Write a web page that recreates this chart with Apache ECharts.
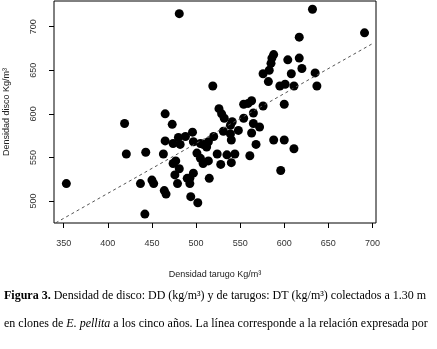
<!DOCTYPE html>
<html>
<head>
<meta charset="utf-8">
<script src="https://cdn.jsdelivr.net/npm/echarts@6/dist/echarts.min.js"></script>
<style>
  html, body { margin: 0; padding: 0; background: #fff; }
  #chart { width: 437px; height: 349px; }
</style>
</head>
<body>
<div id="chart"></div>
<script>
// tarugo density (x) vs disco density (y)
const tarugo = [
  481, 632, 691, 617, 588, 586, 585, 604, 617, 620, 583, 576, 608, 635, 582,
  595, 601, 611, 637, 519, 600, 576, 563, 554, 559, 526, 529, 532, 465, 473,
  419, 554, 565, 565, 541, 539, 572, 496, 531, 539, 548, 563, 520, 540, 568,
  588, 600, 611, 480, 488, 497, 505, 508, 514, 465, 474, 482, 501, 505, 508,
  514, 512, 524, 535, 544, 561, 528, 540, 596, 515, 421, 443, 463, 477, 474,
  481, 476, 497, 493, 490, 479, 493, 450, 452, 437, 353, 464, 466, 442, 494,
  502
];
const disco = [
  715, 720, 693, 688, 668, 664, 658, 662, 664, 652, 650, 646, 646, 647, 637,
  632, 634, 632, 632, 632, 611, 609, 615, 611, 612, 606, 600, 595, 600, 588,
  589, 595, 601, 589, 591, 587, 585, 579, 580, 577, 581, 578, 574, 570, 565,
  570, 570, 560, 573, 574, 568, 566, 565, 568, 569, 566, 565, 555, 549, 543,
  546, 562, 554, 553, 554, 552, 542, 544, 535, 526, 554, 556, 554, 546, 543,
  537, 530, 532, 526, 526, 520, 520, 524, 520, 520, 520, 512, 508, 485, 505,
  498
];
// dashed reference line endpoints
const lineStart = [341, 475];
const lineEnd = [699, 680];

const xTicks = [350, 400, 450, 500, 550, 600, 650, 700];
const yTicks = [500, 550, 600, 650, 700];

const points = tarugo.map((x, i) => [x, disco[i]]);

const chart = echarts.init(document.getElementById('chart'), null, { renderer: 'canvas' });

const option = {
  animation: false,
  backgroundColor: '#fff',
  grid: {
    left: 54,
    top: 1,
    right: 61,
    bottom: 126,
    outerBoundsMode: 'none',
    show: true,
    borderColor: '#000',
    borderWidth: 1
  },
  xAxis: {
    type: 'value',
    min: 339,
    max: 704,
    name: 'Densidad tarugo Kg/m³',
    nameLocation: 'middle',
    nameGap: 47,
    nameTextStyle: { fontFamily: 'Liberation Sans', fontSize: 9, color: '#222' },
    axisLine: { show: false },
    splitLine: { show: false },
    axisTick: {
      show: true,
      length: 5,
      customValues: xTicks,
      lineStyle: { color: '#000' }
    },
    axisLabel: {
      customValues: xTicks,
      margin: 16,
      fontFamily: 'Liberation Sans',
      fontSize: 9,
      color: '#333'
    }
  },
  yAxis: {
    type: 'value',
    min: 474.8,
    max: 729.5,
    name: 'Densidad disco Kg/m³',
    nameLocation: 'middle',
    nameGap: 43,
    nameTextStyle: { fontFamily: 'Liberation Sans', fontSize: 9, color: '#222' },
    axisLine: { show: false },
    splitLine: { show: false },
    axisTick: {
      show: true,
      length: 5,
      customValues: yTicks,
      lineStyle: { color: '#000' }
    },
    axisLabel: {
      customValues: yTicks,
      rotate: 90,
      margin: 16,
      fontFamily: 'Liberation Sans',
      fontSize: 9,
      color: '#333'
    }
  },
  series: [
    {
      type: 'scatter',
      data: points,
      symbol: 'circle',
      symbolSize: 9,
      itemStyle: { color: '#000', opacity: 1 },
      markLine: {
        silent: true,
        symbol: 'none',
        label: { show: false },
        lineStyle: { color: '#555', width: 1, type: [3, 3] },
        data: [[{ coord: lineStart }, { coord: lineEnd }]]
      }
    }
  ],
  graphic: [
    {
      type: 'text',
      left: 4,
      top: 290,
      style: {
        text: '{b|Figura 3.} Densidad de disco: DD (kg/m³) y de tarugos: DT (kg/m³) colectados a 1.30 m',
        fontFamily: 'Liberation Serif',
        fontSize: 12,
        fill: '#000',
        rich: {
          b: { fontFamily: 'Liberation Serif', fontSize: 12, fontWeight: 'bold' }
        }
      }
    },
    {
      type: 'text',
      left: 4,
      top: 318,
      style: {
        text: 'en clones de {i|E. pellita} a los cinco años. La línea corresponde a la relación expresada por',
        fontFamily: 'Liberation Serif',
        fontSize: 12,
        fill: '#000',
        rich: {
          i: { fontFamily: 'Liberation Serif', fontSize: 12, fontStyle: 'italic' }
        }
      }
    }
  ]
};

chart.setOption(option);
</script>
</body>
</html>
